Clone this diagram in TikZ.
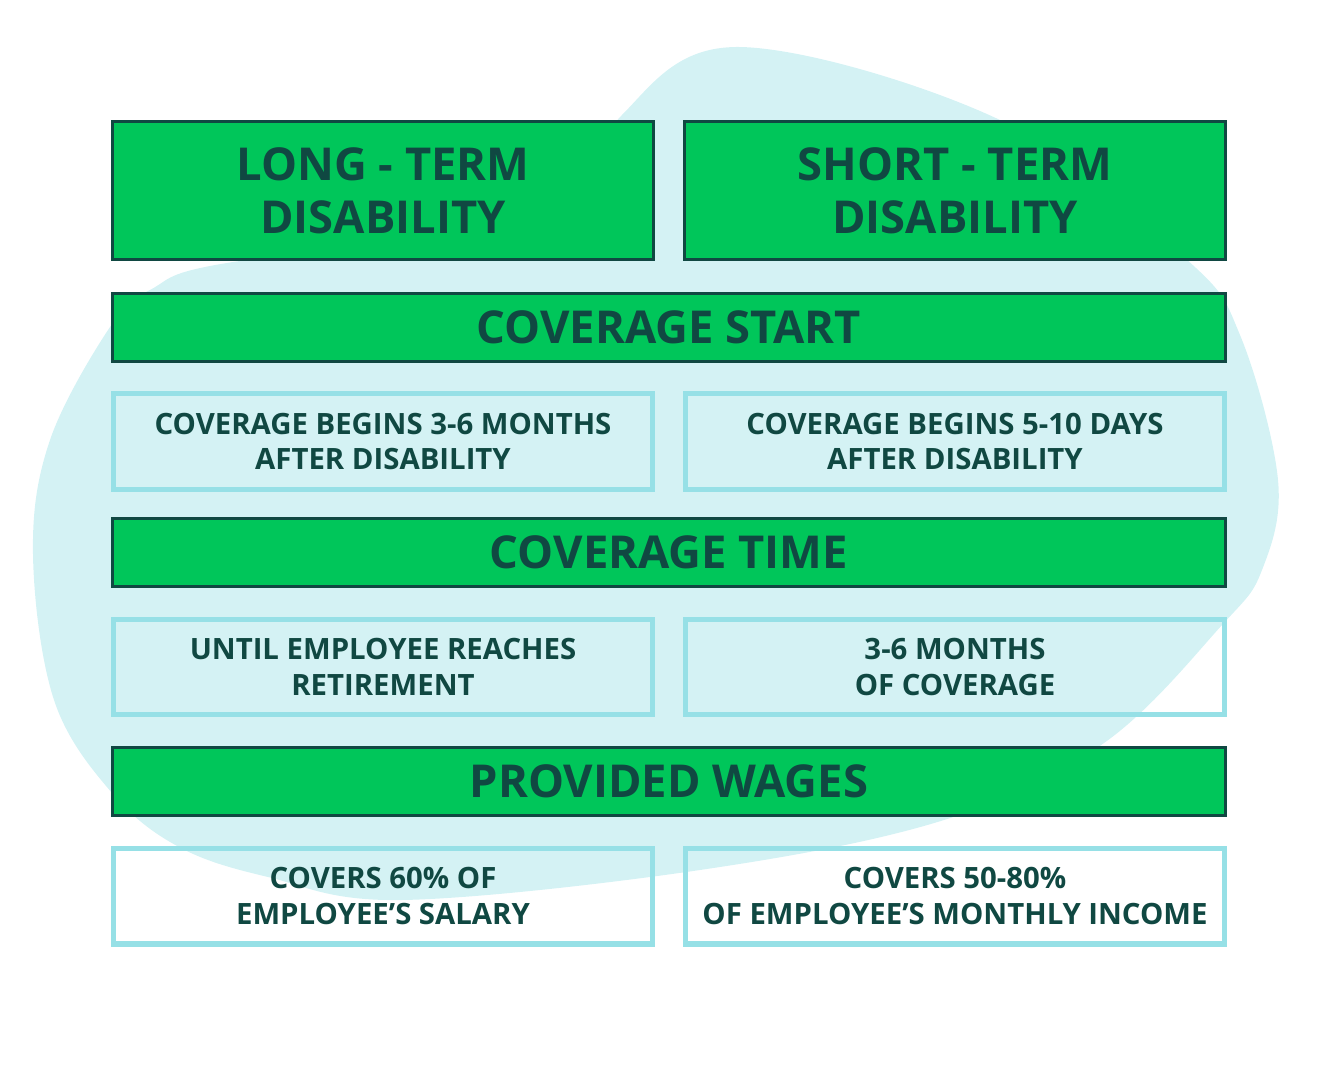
\documentclass[tikz,border=0pt]{standalone}
\usepackage{fontspec}
\setmainfont{Open Sans}
\definecolor{grn}{HTML}{00C65A}
\definecolor{dk}{HTML}{104842}
\definecolor{blob}{HTML}{D4F2F4}
\definecolor{edge}{HTML}{96E0E6}
\tikzset{
  title/.style={draw=dk, line width=1.7pt, fill=grn, text=dk, font=\fontsize{25.8}{30.2}\selectfont\bfseries,
    align=center, minimum width=10.82cm, minimum height=2.76cm, inner sep=0pt},
  bar/.style={draw=dk, line width=1.7pt, fill=grn, text=dk, font=\fontsize{25.8}{30.2}\selectfont\bfseries,
    minimum width=22.26cm, minimum height=1.36cm, inner sep=0pt},
  info/.style={draw=edge, line width=2.85pt, text=dk, font=\fontsize{16.7}{20.4}\selectfont\bfseries,
    align=center, minimum width=10.78cm, minimum height=1.92cm, inner sep=0pt}
}
\begin{document}
\begin{tikzpicture}[x=.02cm, y=.02cm]
\useasboundingbox (0,0) rectangle (1338,1080);
\fill[blob] plot[smooth cycle, tension=.6] coordinates {(621,964) (739,1033) (1000,960) (1185,822) (1240,745) (1278,600) (1262,510) (1222,455) (1104,337) (944,260) (700,210) (402,180) (268,203) (179,233) (112,287) (54,380) (33,526) (50,640) (110,753) (150,790) (233,818) (560,855)};
\node[title] (lt) at (383,889.5) {LONG - TERM\\DISABILITY};
\node[title] (st) at (955,889.5) {SHORT - TERM\\DISABILITY};
\node[bar] (start) at (669,752.5) {COVERAGE START};
\node[info] (ltstart) at (383,638.5) {COVERAGE BEGINS 3-6 MONTHS\\AFTER DISABILITY};
\node[info] (ststart) at (955,638.5) {COVERAGE BEGINS 5-10 DAYS\\AFTER DISABILITY};
\node[bar] (time) at (669,527.5) {COVERAGE TIME};
\node[info] (lttime) at (383,413) {UNTIL EMPLOYEE REACHES\\RETIREMENT};
\node[info] (sttime) at (955,413) {3-6 MONTHS\\OF COVERAGE};
\node[bar] (wages) at (669,298.5) {PROVIDED WAGES};
\node[info] (ltwages) at (383,184) {COVERS 60\% OF\\EMPLOYEE’S SALARY};
\node[info] (stwages) at (955,184) {COVERS 50-80\%\\OF EMPLOYEE’S MONTHLY INCOME};
\end{tikzpicture}
\end{document}
